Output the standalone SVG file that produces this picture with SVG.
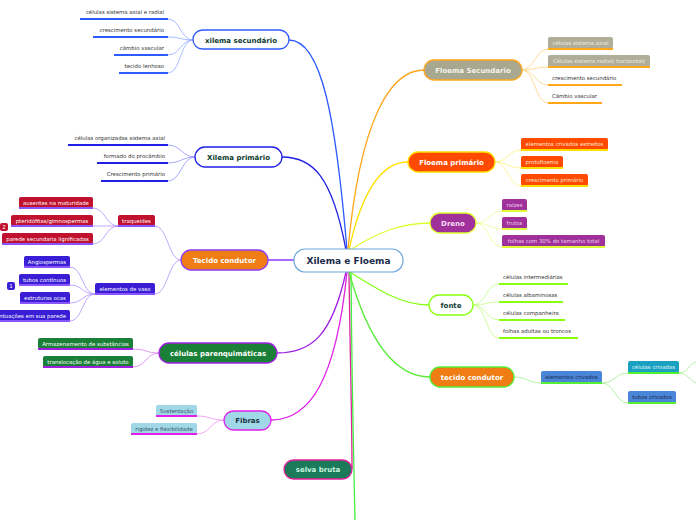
<svg xmlns="http://www.w3.org/2000/svg" width="696" height="520" viewBox="0 0 696 520">
<style>
text{font-family:"DejaVu Sans","Liberation Sans",sans-serif}
.leaf{font-size:5.4px;fill:#333}
.bt{font-size:5.4px;text-anchor:middle}
.main{font-size:7px;font-weight:bold;text-anchor:middle}
.c{fill:none}
.ul{stroke-width:2;fill:none}
</style>
<rect width="696" height="520" fill="#fff"/>
<g id="connectors" fill="none" stroke-linecap="round">
  <!-- main branches -->
  <path d="M347 250 C336 120 322 40 289 40" stroke="#2e5bff" stroke-width="1.3"/>
  <path d="M346 250 C332 175 312 157 282 157" stroke="#1f1fe6" stroke-width="1.3"/>
  <path d="M294 260 L268 260" stroke="#8a3cff" stroke-width="1.3"/>
  <path d="M346 272 C332 335 312 353 277 353" stroke="#a020e0" stroke-width="1.3"/>
  <path d="M347 272 C336 380 310 420 271 420" stroke="#e020e8" stroke-width="1.3"/>
  <path d="M349 272 C350 350 352 420 352 468" stroke="#e0209a" stroke-width="1.3"/>
  <path d="M351 272 C352 400 354 470 355 520" stroke="#44ee44" stroke-width="1.3"/>
  <path d="M348 250 C360 120 390 70 424 70" stroke="#ffa61a" stroke-width="1.3"/>
  <path d="M349 250 C362 190 382 162 408 162" stroke="#ffe000" stroke-width="1.3"/>
  <path d="M350 250 C378 232 402 223 430 223" stroke="#ddff33" stroke-width="1.3"/>
  <path d="M350 272 C378 290 402 305 429 305" stroke="#88ff11" stroke-width="1.3"/>
  <path d="M349 272 C368 340 395 377 430 377" stroke="#55ee33" stroke-width="1.3"/>
  <!-- xilema secundario children -->
  <g stroke="#8fa8ff" stroke-width="0.8">
    <path d="M193 40 C180 40 181 19 168 19"/>
    <path d="M193 40 C180 40 181 37 168 37"/>
    <path d="M193 40 C180 40 181 55 168 55"/>
    <path d="M193 40 C180 40 181 73 168 73"/>
  </g>
  <g stroke="#9090ff" stroke-width="0.8">
    <path d="M195 157 C182 157 181 145 168 145"/>
    <path d="M195 157 C182 157 181 163 168 163"/>
    <path d="M195 157 C182 157 181 181 168 181"/>
  </g>
  <g stroke="#b090ff" stroke-width="0.8">
    <path d="M181 260 C168 260 168 226 155 226"/>
    <path d="M181 260 C168 260 168 294 155 294"/>
    <path d="M118 226 C105 226 106 208 93 208"/>
    <path d="M118 226 C105 226 106 226 93 226"/>
    <path d="M118 226 C105 226 106 244 93 244"/>
    <path d="M95 294 C82 294 83 267 70 267"/>
    <path d="M95 294 C82 294 83 285 70 285"/>
    <path d="M95 294 C82 294 83 303 70 303"/>
    <path d="M95 294 C82 294 83 321 70 321"/>
  </g>
  <g stroke="#d080f0" stroke-width="0.8">
    <path d="M159 353 C146 353 146 349 133 349"/>
    <path d="M159 353 C146 353 146 367 133 367"/>
  </g>
  <g stroke="#f090f0" stroke-width="0.8">
    <path d="M224 420 C210 420 211 416 197 416"/>
    <path d="M224 420 C210 420 211 434 197 434"/>
  </g>
  <g stroke="#ffd080" stroke-width="0.8">
    <path d="M522 70 C535 70 535 49 548 49"/>
    <path d="M522 70 C535 70 535 67 548 67"/>
    <path d="M522 70 C535 70 535 85 548 85"/>
    <path d="M522 70 C535 70 535 103 548 103"/>
  </g>
  <g stroke="#fff080" stroke-width="0.8">
    <path d="M495 162 C508 162 508 150 521 150"/>
    <path d="M495 162 C508 162 508 168 521 168"/>
    <path d="M495 162 C508 162 508 186 521 186"/>
  </g>
  <g stroke="#eeff90" stroke-width="0.8">
    <path d="M476 223 C489 223 489 211 502 211"/>
    <path d="M476 223 C489 223 489 229 502 229"/>
    <path d="M476 223 C489 223 489 247 502 247"/>
  </g>
  <g stroke="#c0ff80" stroke-width="0.8">
    <path d="M473 305 C486 305 486 284 499 284"/>
    <path d="M473 305 C486 305 486 302 499 302"/>
    <path d="M473 305 C486 305 486 320 499 320"/>
    <path d="M473 305 C486 305 486 338 499 338"/>
  </g>
  <g stroke="#a0f090" stroke-width="0.8">
    <path d="M514 377 C527 377 528 383 541 383"/>
    <path d="M602 383 C615 383 615 373 628 373"/>
    <path d="M602 383 C615 383 615 403 628 403"/>
    <path d="M679 373 C688 373 688 364 696 362"/>
    <path d="M679 373 C688 373 689 381 696 383"/>
  </g>
</g>

<g id="center">
  <rect x="294" y="249" width="109" height="23" rx="11" fill="#fff" stroke="#6fa8dc" stroke-width="1.2"/>
  <text x="348.5" y="263.5" font-size="9" font-weight="bold" text-anchor="middle" fill="#1a2a4a">Xilema e Floema</text>
</g>

<g id="xilema-secundario">
  <rect x="193" y="30" width="96" height="19" rx="9.5" fill="#fff" stroke="#2e5bff" stroke-width="1.3"/>
  <text class="main" x="241" y="42.5" fill="#0d3b2e">xilema secundário</text>
</g>
<g id="xs-1"><line class="ul" x1="80" y1="19" x2="168" y2="19" stroke="#2e5bff"/><text class="leaf" x="164" y="14" text-anchor="end">células sistema axial e radial</text></g>
<g id="xs-2"><line class="ul" x1="93" y1="37" x2="168" y2="37" stroke="#2e5bff"/><text class="leaf" x="164" y="32" text-anchor="end">crescimento secundário</text></g>
<g id="xs-3"><line class="ul" x1="114" y1="55" x2="168" y2="55" stroke="#2e5bff"/><text class="leaf" x="164" y="50" text-anchor="end">câmbio vascular</text></g>
<g id="xs-4"><line class="ul" x1="119" y1="73" x2="168" y2="73" stroke="#2e5bff"/><text class="leaf" x="164" y="68" text-anchor="end">tecido lenhoso</text></g>

<g id="xilema-primario">
  <rect x="195" y="147" width="87" height="20" rx="10" fill="#fff" stroke="#1f1fe6" stroke-width="1.3"/>
  <text class="main" x="238.5" y="160" fill="#0d3b2e">Xilema primário</text>
</g>
<g id="xp-1"><line class="ul" x1="68" y1="145" x2="168" y2="145" stroke="#1f1fe6"/><text class="leaf" x="165" y="140" text-anchor="end">células organizadas sistema axial</text></g>
<g id="xp-2"><line class="ul" x1="97" y1="163" x2="168" y2="163" stroke="#1f1fe6"/><text class="leaf" x="165" y="158" text-anchor="end">formado do procâmbio</text></g>
<g id="xp-3"><line class="ul" x1="101" y1="181" x2="168" y2="181" stroke="#1f1fe6"/><text class="leaf" x="165" y="176" text-anchor="end">Crescimento primário</text></g>

<g id="tecido-condutor-l">
  <rect x="181" y="250" width="87" height="20" rx="10" fill="#f07d14" stroke="#8a3cff" stroke-width="1.3"/>
  <text class="main" x="224.5" y="263" fill="#fff">Tecido condutor</text>
</g>
<g id="traqueides">
  <rect x="118" y="215" width="37" height="11" rx="2" fill="#c0112e"/>
  <line class="ul" x1="118" y1="226" x2="155" y2="226" stroke="#8855ff" stroke-width="1.3"/>
  <text class="bt" x="136.5" y="222.5" fill="#fff">traqueides</text>
</g>
<g id="tr-1"><rect x="19" y="197" width="74" height="11" rx="2" fill="#c0112e"/><line class="ul" x1="19" y1="208" x2="93" y2="208" stroke="#8855ff" stroke-width="1.3"/><text class="bt" x="56" y="204.5" fill="#fff">ausentes na maturidade</text></g>
<g id="tr-2"><rect x="11" y="215" width="82" height="11" rx="2" fill="#c0112e"/><line class="ul" x1="11" y1="226" x2="93" y2="226" stroke="#8855ff" stroke-width="1.3"/><text class="bt" x="52" y="222.5" fill="#fff">pteridófitas/gimnospermas</text></g>
<g id="tr-3"><rect x="2" y="233" width="91" height="11" rx="2" fill="#c0112e"/><line class="ul" x1="2" y1="244" x2="93" y2="244" stroke="#8855ff" stroke-width="1.3"/><text class="bt" x="47.5" y="240.5" fill="#fff">parede secundaria lignificadas</text></g>
<g id="badge-2"><rect x="0" y="223" width="8" height="8" rx="2" fill="#c0112e"/><text x="4" y="229.2" font-size="5.4" text-anchor="middle" fill="#fff">2</text></g>

<g id="elementos-de-vaso">
  <rect x="95" y="283" width="60" height="11" rx="2" fill="#3a1ed6"/>
  <line class="ul" x1="95" y1="294" x2="155" y2="294" stroke="#8855ff" stroke-width="1.3"/>
  <text class="bt" x="125" y="290.5" fill="#fff">elementos de vaso</text>
</g>
<g id="ev-1"><rect x="24" y="256" width="46" height="11" rx="2" fill="#3a1ed6"/><line class="ul" x1="24" y1="267" x2="70" y2="267" stroke="#8855ff" stroke-width="1.3"/><text class="bt" x="47" y="263.5" fill="#fff">Angiospermas</text></g>
<g id="ev-2"><rect x="19" y="274" width="51" height="11" rx="2" fill="#3a1ed6"/><line class="ul" x1="19" y1="285" x2="70" y2="285" stroke="#8855ff" stroke-width="1.3"/><text class="bt" x="44.5" y="281.5" fill="#fff">tubos contínuos</text></g>
<g id="ev-3"><rect x="20" y="292" width="50" height="11" rx="2" fill="#3a1ed6"/><line class="ul" x1="20" y1="303" x2="70" y2="303" stroke="#8855ff" stroke-width="1.3"/><text class="bt" x="45" y="299.5" fill="#fff">estruturas ocas</text></g>
<g id="ev-4"><rect x="-20" y="310" width="90" height="11" rx="2" fill="#3a1ed6"/><line class="ul" x1="-20" y1="321" x2="70" y2="321" stroke="#8855ff" stroke-width="1.3"/><text class="leaf" x="66" y="317.5" text-anchor="end" fill="#fff" style="fill:#fff">pontuações em sua parede</text></g>
<g id="badge-1"><rect x="7" y="282" width="8" height="8" rx="2" fill="#3a1ed6"/><text x="11" y="288.2" font-size="5.4" text-anchor="middle" fill="#fff">1</text></g>

<g id="celulas-parenquimaticas">
  <rect x="159" y="343" width="118" height="20" rx="10" fill="#1a7f37" stroke="#a020e0" stroke-width="1.3"/>
  <text class="main" x="218" y="356" fill="#fff">células parenquimáticas</text>
</g>
<g id="cp-1"><rect x="38" y="338" width="95" height="11" rx="2" fill="#1a7f37"/><line class="ul" x1="38" y1="349" x2="133" y2="349" stroke="#a020e0" stroke-width="1.3"/><text class="bt" x="85.5" y="345.5" fill="#fff">Armazenamento de substâncias</text></g>
<g id="cp-2"><rect x="43" y="356" width="90" height="11" rx="2" fill="#1a7f37"/><line class="ul" x1="43" y1="367" x2="133" y2="367" stroke="#a020e0" stroke-width="1.3"/><text class="bt" x="88" y="363.5" fill="#fff">translocação de água e soluto</text></g>

<g id="fibras">
  <rect x="224" y="411" width="47" height="19" rx="9.5" fill="#a0d8e8" stroke="#e020e8" stroke-width="1.3"/>
  <text class="main" x="247.5" y="423" fill="#1a3040">Fibras</text>
</g>
<g id="fb-1"><rect x="156" y="405" width="41" height="11" rx="2" fill="#a0d8e8"/><line class="ul" x1="156" y1="416" x2="197" y2="416" stroke="#e020e8" stroke-width="1.3"/><text class="bt" x="176.5" y="412.5" fill="#335566">Sustentação</text></g>
<g id="fb-2"><rect x="131" y="423" width="66" height="11" rx="2" fill="#a0d8e8"/><line class="ul" x1="131" y1="434" x2="197" y2="434" stroke="#e020e8" stroke-width="1.3"/><text class="bt" x="164" y="430.5" fill="#335566">rigidez e flexibilidade</text></g>

<g id="selva-bruta">
  <rect x="284" y="460" width="68" height="19" rx="9.5" fill="#1a7a5a" stroke="#e0209a" stroke-width="1.3"/>
  <text class="main" x="318" y="472" fill="#c8f5e0">selva bruta</text>
</g>

<g id="floema-secundario">
  <rect x="424" y="60" width="98" height="20" rx="10" fill="#a8a890" stroke="#ffa61a" stroke-width="1.3"/>
  <text class="main" x="473" y="73" fill="#f4f4ec">Floema Secundario</text>
</g>
<g id="fs-1"><rect x="548" y="37" width="65" height="12" rx="2" fill="#b0ae98"/><line class="ul" x1="548" y1="49" x2="613" y2="49" stroke="#ffa61a" stroke-width="1.3"/><text class="bt" x="580.5" y="45" fill="#ecebe0">células sistema axial</text></g>
<g id="fs-2"><rect x="548" y="55" width="102" height="12" rx="2" fill="#b0ae98"/><line class="ul" x1="548" y1="67" x2="650" y2="67" stroke="#ffa61a" stroke-width="1.3"/><text class="bt" x="599" y="63" fill="#ecebe0">Células sistema radial( horizontal)</text></g>
<g id="fs-3"><line class="ul" x1="548" y1="85" x2="622" y2="85" stroke="#ffa61a"/><text class="leaf" x="552" y="80">crescimento secundário</text></g>
<g id="fs-4"><line class="ul" x1="548" y1="103" x2="602" y2="103" stroke="#ffa61a"/><text class="leaf" x="552" y="98">Câmbio vascular</text></g>

<g id="floema-primario">
  <rect x="408" y="152" width="87" height="20" rx="10" fill="#ff4a00" stroke="#ffe000" stroke-width="1.3"/>
  <text class="main" x="451.5" y="165" fill="#fff">Floema primário</text>
</g>
<g id="fp-1"><rect x="521" y="138" width="87" height="12" rx="2" fill="#ff4a00"/><line class="ul" x1="521" y1="150" x2="608" y2="150" stroke="#ffe000" stroke-width="1.3"/><text class="bt" x="564.5" y="146" fill="#ffe8dc">elementos crivados estreitos</text></g>
<g id="fp-2"><rect x="521" y="156" width="42" height="12" rx="2" fill="#ff4a00"/><line class="ul" x1="521" y1="168" x2="563" y2="168" stroke="#ffe000" stroke-width="1.3"/><text class="bt" x="542" y="164" fill="#ffe8dc">protofloema</text></g>
<g id="fp-3"><rect x="521" y="174" width="67" height="12" rx="2" fill="#ff4a00"/><line class="ul" x1="521" y1="186" x2="588" y2="186" stroke="#ffe000" stroke-width="1.3"/><text class="bt" x="554.5" y="182" fill="#ffe8dc">crescimento primário</text></g>

<g id="dreno">
  <rect x="430" y="213" width="46" height="20" rx="10" fill="#a0309a" stroke="#ddff33" stroke-width="1.3"/>
  <text class="main" x="453" y="226" fill="#f4dcf2">Dreno</text>
</g>
<g id="dr-1"><rect x="502" y="199" width="25" height="12" rx="2" fill="#a0309a"/><line class="ul" x1="502" y1="211" x2="527" y2="211" stroke="#ddff33" stroke-width="1.3"/><text class="bt" x="514.5" y="207" fill="#f0d0f0">raízes</text></g>
<g id="dr-2"><rect x="502" y="217" width="25" height="12" rx="2" fill="#a0309a"/><line class="ul" x1="502" y1="229" x2="527" y2="229" stroke="#ddff33" stroke-width="1.3"/><text class="bt" x="514.5" y="225" fill="#f0d0f0">frutos</text></g>
<g id="dr-3"><rect x="502" y="235" width="103" height="12" rx="2" fill="#a0309a"/><line class="ul" x1="502" y1="247" x2="605" y2="247" stroke="#ddff33" stroke-width="1.3"/><text class="bt" x="553.5" y="243" fill="#f0d0f0">folhas com 30% do tamanho total</text></g>

<g id="fonte">
  <rect x="429" y="295" width="44" height="20" rx="10" fill="#fff" stroke="#88ff11" stroke-width="1.3"/>
  <text class="main" x="451" y="308" fill="#0d3b2e">fonte</text>
</g>
<g id="fo-1"><line class="ul" x1="499" y1="284" x2="568" y2="284" stroke="#88ff11"/><text class="leaf" x="503" y="279">células intermediárias</text></g>
<g id="fo-2"><line class="ul" x1="499" y1="302" x2="563" y2="302" stroke="#88ff11"/><text class="leaf" x="503" y="297">células albaminosas</text></g>
<g id="fo-3"><line class="ul" x1="499" y1="320" x2="565" y2="320" stroke="#88ff11"/><text class="leaf" x="503" y="315">células companheira</text></g>
<g id="fo-4"><line class="ul" x1="499" y1="338" x2="578" y2="338" stroke="#88ff11"/><text class="leaf" x="503" y="333">folhas adultas ou troncos</text></g>

<g id="tecido-condutor-r">
  <rect x="430" y="367" width="84" height="20" rx="10" fill="#f07d14" stroke="#55ee33" stroke-width="1.3"/>
  <text class="main" x="472" y="380" fill="#fff">tecido condutor</text>
</g>
<g id="elementos-crivados"><rect x="541" y="371" width="61" height="12" rx="2" fill="#4a86d8"/><line class="ul" x1="541" y1="383" x2="602" y2="383" stroke="#55ee33" stroke-width="1.3"/><text class="bt" x="571.5" y="379" fill="#1a2a50">elementos crivados</text></g>
<g id="celulas-crivadas"><rect x="628" y="361" width="51" height="12" rx="2" fill="#1aa0c0"/><line class="ul" x1="628" y1="373" x2="679" y2="373" stroke="#55ee33" stroke-width="1.3"/><text class="bt" x="653.5" y="369" fill="#e0f8ff">células crivadas</text></g>
<g id="tubos-crivados"><rect x="628" y="391" width="48" height="12" rx="2" fill="#4a86d8"/><line class="ul" x1="628" y1="403" x2="676" y2="403" stroke="#55ee33" stroke-width="1.3"/><text class="bt" x="652" y="399" fill="#1a2a50">tubos crivados</text></g>
</svg>
